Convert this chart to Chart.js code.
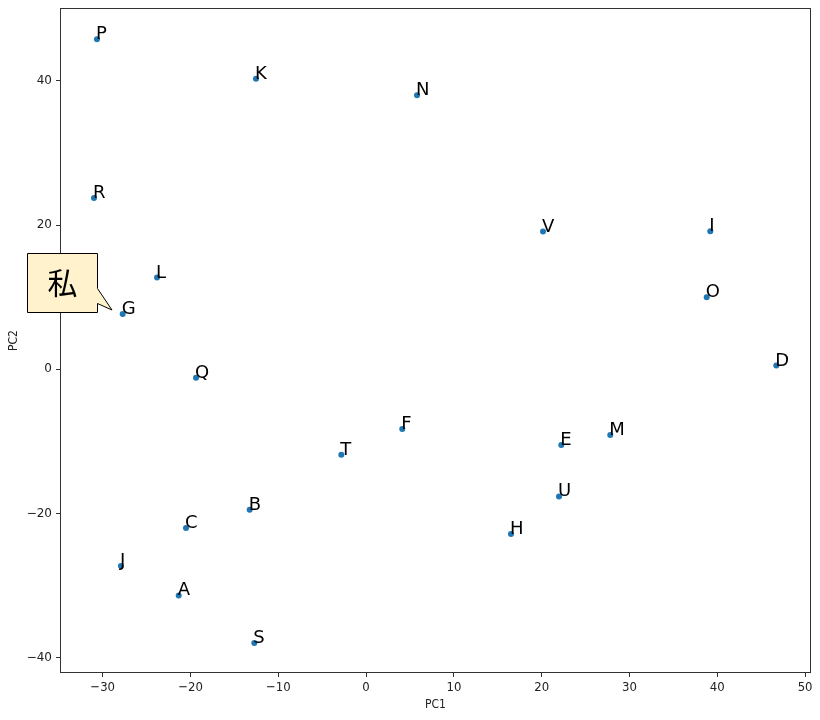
<!DOCTYPE html>
<html>
<head>
<meta charset="utf-8">
<script src="https://cdn.jsdelivr.net/npm/chart.js@4"></script>
<style>
html, body { margin: 0; padding: 0; background: #fff; }
#wrap { width: 820px; height: 720px; }
</style>
</head>
<body>
<div id="wrap"><canvas id="pcaChart" width="820" height="720"></canvas></div>
<script>
// données
const labels = ['P', 'K', 'N', 'R', 'V', 'I', 'L', 'G', 'O', 'D', 'Q', 'F', 'M', 'E', 'T', 'U', 'B', 'H', 'C', 'J', 'A', 'S'];
const pc1 = [-30.65, -12.54, 5.80, -30.99, 20.15, 39.20, -23.81, -27.72, 38.79, 46.72, -19.37, 4.12, 27.81, 22.23, -2.82, 21.97, -13.26, 16.50, -20.51, -27.92, -21.34, -12.73];
const pc2 = [45.73, 40.28, 37.98, 23.75, 19.09, 19.14, 12.71, 7.65, 10.00, 0.53, -1.18, -8.28, -9.11, -10.50, -11.84, -17.62, -19.46, -22.83, -21.99, -27.24, -31.33, -37.92];
const xTicks = [-30, -20, -10, 0, 10, 20, 30, 40, 50];
const yTicks = [-40, -20, 0, 20, 40];
const calloutText = '私';
const calloutTarget = 'G';

const fmt = v => v < 0 ? '\u2212' + Math.abs(v) : String(v);

// étiquettes à côté des points
const pointLabels = {
    id: 'pointLabels',
    afterDatasetsDraw(chart) {
        const ctx = chart.ctx;
        const meta = chart.getDatasetMeta(0);
        ctx.save();
        ctx.font = '18px "DejaVu Sans"';
        ctx.fillStyle = '#000';
        ctx.textAlign = 'left';
        ctx.textBaseline = 'alphabetic';
        meta.data.forEach((pt, i) => ctx.fillText(labels[i], pt.x - 1, pt.y));
        ctx.restore();
    }
};

// cadre + bulle
const frameAndCallout = {
    id: 'frameAndCallout',
    afterDraw(chart) {
        const ctx = chart.ctx;
        const a = chart.chartArea;
        ctx.save();
        ctx.strokeStyle = '#333';
        ctx.lineWidth = 1;
        ctx.strokeRect(Math.round(a.left) + 0.5, Math.round(a.top) + 0.5,
            Math.round(a.right - a.left) - 1, Math.round(a.bottom - a.top) - 1);

        const pt = chart.getDatasetMeta(0).data[labels.indexOf(calloutTarget)];
        const tipX = Math.round(pt.x - 11), tipY = Math.round(pt.y - 4);
        const bx = tipX - 85 + 0.5, by = tipY - 57 + 0.5, bw = 70, bh = 59;
        ctx.beginPath();
        ctx.moveTo(bx, by);
        ctx.lineTo(bx + bw, by);
        ctx.lineTo(bx + bw, by + 35);
        ctx.lineTo(tipX, tipY);
        ctx.lineTo(bx + bw, by + 50);
        ctx.lineTo(bx + bw, by + bh);
        ctx.lineTo(bx, by + bh);
        ctx.closePath();
        ctx.fillStyle = '#fff2cc';
        ctx.fill();
        ctx.strokeStyle = '#000';
        ctx.stroke();
        ctx.fillStyle = '#000';
        ctx.font = '30px "Noto Sans CJK JP"';
        ctx.textAlign = 'center';
        ctx.textBaseline = 'middle';
        ctx.fillText(calloutText, bx + bw / 2, by + bh / 2);
        ctx.restore();
    }
};

const tickGrid = { drawOnChartArea: false, drawTicks: true, tickLength: 4, color: '#333' };

new Chart(document.getElementById('pcaChart').getContext('2d'), {
    type: 'scatter',
    data: {
        datasets: [{
            data: pc1.map((x, i) => ({ x: x, y: pc2[i] })),
            backgroundColor: '#1f77b4',
            borderWidth: 0,
            pointRadius: 3,
            pointHoverRadius: 3
        }]
    },
    options: {
        responsive: false,
        animation: false,
        events: [],
        layout: { padding: { left: 0, top: 8, right: 9, bottom: 0 } },
        plugins: { legend: { display: false }, tooltip: { enabled: false } },
        scales: {
            x: {
                type: 'linear',
                position: 'bottom',
                min: -34.86,
                max: 50.67,
                afterBuildTicks: s => { s.ticks = xTicks.map(v => ({ value: v })); },
                afterFit: s => { s.height = 47; s.paddingLeft = 0; s.paddingRight = 0; },
                grid: tickGrid,
                border: { display: false },
                ticks: {
                    callback: v => fmt(v),
                    font: { family: 'DejaVu Sans Condensed', size: 13 },
                    color: '#222',
                    padding: 3,
                    maxRotation: 0,
                    autoSkip: false
                },
                title: {
                    display: true,
                    text: 'PC1',
                    font: { family: 'DejaVu Sans Condensed', size: 12 },
                    color: '#222',
                    padding: { top: 0, bottom: 8 }
                }
            },
            y: {
                type: 'linear',
                min: -42.08,
                max: 50.07,
                afterBuildTicks: s => { s.ticks = yTicks.map(v => ({ value: v })); },
                afterFit: s => { s.width = 60; s.paddingTop = 0; s.paddingBottom = 0; },
                grid: tickGrid,
                border: { display: false },
                ticks: {
                    callback: v => fmt(v),
                    font: { family: 'DejaVu Sans', size: 12 },
                    color: '#222',
                    padding: 4,
                    autoSkip: false
                },
                title: {
                    display: true,
                    text: 'PC2',
                    font: { family: 'DejaVu Sans Condensed', size: 12 },
                    color: '#222',
                    padding: { top: 7, bottom: 0 }
                }
            }
        }
    },
    plugins: [pointLabels, frameAndCallout]
});
</script>
</body>
</html>
